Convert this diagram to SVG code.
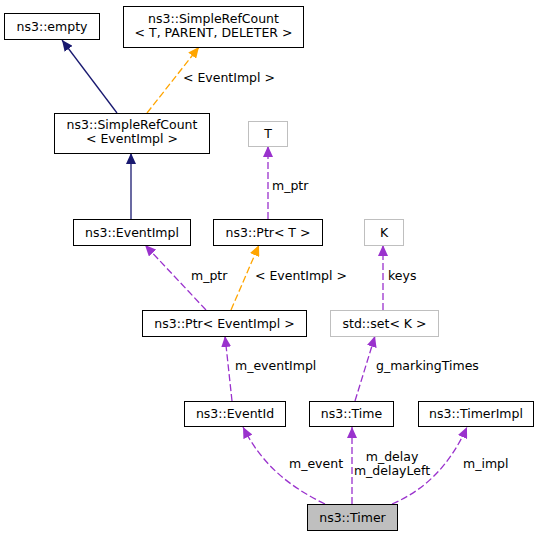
<svg xmlns="http://www.w3.org/2000/svg" width="539" height="536" viewBox="0 0 539 536">
<style>
text{font-family:"DejaVu Sans","Liberation Sans",sans-serif;font-size:12.5px;fill:#000}
.n{text-anchor:middle}
.box{fill:#fff;stroke:#000;stroke-width:1}
.gbox{fill:#fff;stroke:#bfbfbf;stroke-width:1}
.sel{fill:#bfbfbf;stroke:#000;stroke-width:1}
.e{fill:none;stroke-width:1.3}
.nv{stroke:#191970}
.or{stroke:#ffa500;stroke-dasharray:7,3}
.pu{stroke:#9a32cd;stroke-dasharray:7,3}
</style>
<defs>
<marker id="aN" viewBox="0 0 11 10" refX="11" refY="5" markerWidth="11" markerHeight="10" markerUnits="userSpaceOnUse" orient="auto"><path d="M0,0L11,5L0,10z" fill="#191970"/></marker>
<marker id="aO" viewBox="0 0 11 10" refX="11" refY="5" markerWidth="11" markerHeight="10" markerUnits="userSpaceOnUse" orient="auto"><path d="M0,0L11,5L0,10z" fill="#ffa500"/></marker>
<marker id="aP" viewBox="0 0 11 10" refX="11" refY="5" markerWidth="11" markerHeight="10" markerUnits="userSpaceOnUse" orient="auto"><path d="M0,0L11,5L0,10z" fill="#9a32cd"/></marker>
</defs>
<rect width="539" height="536" fill="#fff"/>
<g id="edges">
<path class="e nv" d="M117,113L62,40" marker-end="url(#aN)"/>
<path class="e or" d="M147,113L199,47" marker-end="url(#aO)"/>
<text x="183" y="82">&lt; EventImpl &gt;</text>
<path class="e nv" d="M131,219L131,153" marker-end="url(#aN)"/>
<path class="e pu" d="M268,219L268,146" marker-end="url(#aP)"/>
<text x="272" y="190">m_ptr</text>
<path class="e pu" d="M206,310L145,245" marker-end="url(#aP)"/>
<text x="191" y="280">m_ptr</text>
<path class="e or" d="M231,310L259,245" marker-end="url(#aO)"/>
<text x="255" y="280">&lt; EventImpl &gt;</text>
<path class="e pu" d="M383,310L383,245" marker-end="url(#aP)"/>
<text x="388" y="280">keys</text>
<path class="e pu" d="M232,401L225,336" marker-end="url(#aP)"/>
<text x="235" y="370">m_eventImpl</text>
<path class="e pu" d="M355,401L375,336" marker-end="url(#aP)"/>
<text x="376" y="370">g_markingTimes</text>
<path class="e pu" d="M325,504C290,487 262,465 243,427" marker-end="url(#aP)"/>
<text x="289" y="468">m_event</text>
<path class="e pu" d="M352,504L352,427" marker-end="url(#aP)"/>
<text class="n" x="392" y="461">m_delay</text>
<text class="n" x="392" y="475">m_delayLeft</text>
<path class="e pu" d="M392,504C425,490 450,465 467,427" marker-end="url(#aP)"/>
<text x="463" y="468">m_impl</text>
</g>
<g id="node-empty"><rect class="box" x="4.5" y="13.5" width="95" height="26"/><text class="n" x="52" y="31">ns3::empty</text></g>
<g id="node-srcT"><rect class="box" x="123.5" y="6.5" width="180" height="41"/><text class="n" x="213.5" y="23">ns3::SimpleRefCount</text><text class="n" x="213.5" y="37">&lt; T, PARENT, DELETER &gt;</text></g>
<g id="node-srcE"><rect class="box" x="54.5" y="113.5" width="155" height="40"/><text class="n" x="132" y="129">ns3::SimpleRefCount</text><text class="n" x="132" y="143">&lt; EventImpl &gt;</text></g>
<g id="node-T"><rect class="gbox" x="248.5" y="121.5" width="39" height="25"/><text class="n" x="268" y="138">T</text></g>
<g id="node-eventimpl"><rect class="box" x="73.5" y="219.5" width="117" height="26"/><text class="n" x="132" y="237">ns3::EventImpl</text></g>
<g id="node-ptrT"><rect class="box" x="213.5" y="219.5" width="109" height="26"/><text class="n" x="268" y="237">ns3::Ptr&lt; T &gt;</text></g>
<g id="node-K"><rect class="gbox" x="364.5" y="219.5" width="39" height="26"/><text class="n" x="384" y="237">K</text></g>
<g id="node-ptrE"><rect class="box" x="142.5" y="310.5" width="164" height="26"/><text class="n" x="224.5" y="328">ns3::Ptr&lt; EventImpl &gt;</text></g>
<g id="node-set"><rect class="gbox" x="330.5" y="310.5" width="108" height="26"/><text class="n" x="384.5" y="328">std::set&lt; K &gt;</text></g>
<g id="node-eventid"><rect class="box" x="184.5" y="401.5" width="101" height="25"/><text class="n" x="235" y="418">ns3::EventId</text></g>
<g id="node-time"><rect class="box" x="309.5" y="401.5" width="84" height="25"/><text class="n" x="351.5" y="418">ns3::Time</text></g>
<g id="node-timerimpl"><rect class="box" x="418.5" y="401.5" width="115" height="25"/><text class="n" x="476" y="418">ns3::TimerImpl</text></g>
<g id="node-timer"><rect class="sel" x="307.5" y="504.5" width="90" height="26"/><text class="n" x="352.5" y="522">ns3::Timer</text></g>
</svg>
